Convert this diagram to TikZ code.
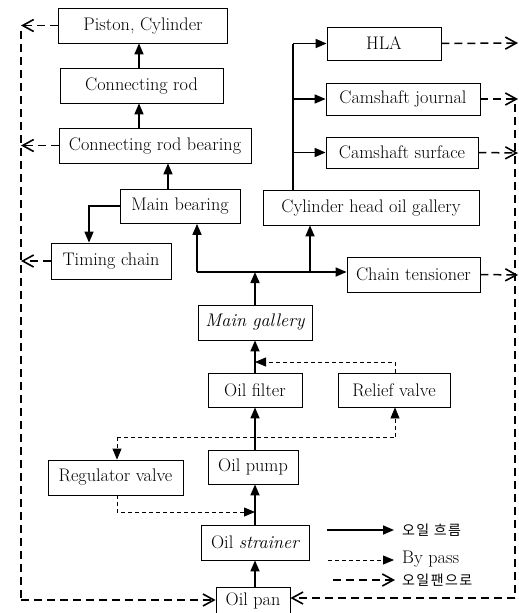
\documentclass[tikz,border=0pt]{standalone}
\usepackage{fontspec}
\newfontfamily\cjk[LetterSpace=10]{Noto Sans CJK KR}
\usetikzlibrary{arrows.meta}
\tikzset{
  box/.style={draw, line width=0.8pt, fill=white, inner sep=0pt, align=center,
    font=\fontsize{18.2}{21}\selectfont},
  flow/.style={line width=1.7pt, -{Triangle[length=11pt,width=9pt]}},
  flowline/.style={line width=1.7pt},
  bypass/.style={line width=0.8pt, dash pattern=on 4pt off 3pt, -{Triangle[length=11pt,width=9pt]}},
  bypassline/.style={line width=0.8pt, dash pattern=on 4pt off 3pt},
  ret/.style={line width=1.5pt, dash pattern=on 8pt off 5pt, -{Straight Barb[length=11pt,width=12pt,line width=1.6pt]}},
  retline/.style={line width=1.5pt, dash pattern=on 8pt off 5pt},
  legtext/.style={anchor=west, inner sep=0pt},
}
\begin{document}
\begin{tikzpicture}[x=1pt,y=-1pt]
\useasboundingbox (0,0) rectangle (519,613);
% boxes
\node[box, minimum width=169pt, minimum height=35pt] (piston) at (143,25.5) {Piston, Cylinder};
\node[box, minimum width=163pt, minimum height=35pt] (conrod) at (141.5,85.5) {Connecting rod};
\node[box, minimum width=192pt, minimum height=35pt] (crb) at (155,145.5) {Connecting rod bearing};
\node[box, minimum width=120pt, minimum height=34pt] (mb) at (180,206.5) {Main bearing};
\node[box, minimum width=120pt, minimum height=36pt] (tc) at (111,261) {Timing chain};
\node[box, minimum width=216pt, minimum height=35pt] (chog) at (371,207.5) {Cylinder head oil gallery};
\node[box, minimum width=114pt, minimum height=33pt] (hla) at (384,43.5) {HLA};
\node[box, minimum width=154pt, minimum height=32pt] (cj) at (403,99) {Camshaft journal};
\node[box, minimum width=152pt, minimum height=31pt] (cs) at (402,152.5) {Camshaft surface};
\node[box, minimum width=133pt, minimum height=35pt] (ct) at (413.5,274.5) {Chain tensioner};
\node[box, minimum width=114pt, minimum height=35pt] (mg) at (255,322.5) {\itshape Main gallery};
\node[box, minimum width=94pt, minimum height=34pt] (of) at (255,390) {Oil filter};
\node[box, minimum width=112pt, minimum height=34pt] (rv) at (394,390) {Relief valve};
\node[box, minimum width=90pt, minimum height=34pt] (op) at (253,467) {Oil pump};
\node[box, minimum width=135pt, minimum height=35pt] (rg) at (115.5,477.5) {Regulator valve};
\node[box, minimum width=108pt, minimum height=35pt] (os) at (255,542.5) {Oil \itshape strainer};
\node[box, minimum width=74pt, minimum height=27pt] (pan) at (253,600.5) {Oil pan};

% junction coordinates
\coordinate (jm) at (255,272);
\coordinate (jmb) at (197,272);
\coordinate (jch) at (310,272);
\coordinate (jtc) at (89,206);
\coordinate (jtop) at (293,43.5);
\coordinate (jcj) at (293,99);
\coordinate (jcs) at (293,152.5);
\coordinate (x168) at (168,0);
\coordinate (x139) at (139,0);
\coordinate (jrgt) at (117,437);
\coordinate (jrvb) at (395,437);
\coordinate (jrgb) at (117,512);
\coordinate (jpb) at (255,512);
\coordinate (jrvt) at (395,362);
\coordinate (jfb) at (255,362);
\coordinate (lft) at (21,31);
\coordinate (lbot) at (21,600);
\coordinate (rtop) at (515,104);
\coordinate (rbot) at (515,598);
\coordinate (lp) at (21,25.5);
\coordinate (lc) at (21,145.5);
\coordinate (lt) at (21,261);
\coordinate (rh) at (518,43);
\coordinate (rj) at (518,99);
\coordinate (rs) at (518,153);
\coordinate (rc) at (518,275);

% main flow
\draw[flow] (pan.north -| os) -- (os.south);
\draw[flow] (os.north) -- (op.south -| os);
\draw[flow] (op.north -| os) -- (of.south);
\draw[flow] (of.north) -- (mg.south);
\draw[flow] (mg.north) -- (jm);
\draw[flowline] (jmb) -- (jm);
\draw[flow] (jm) -- (ct.west |- jm);
\draw[flow] (jmb) -- (jmb |- mb.south);
\draw[flow] (jch) -- (jch |- chog.south);
\draw[flow] (mb.north -| x168) -- (crb.south -| x168);
\draw[flow] (crb.north -| x139) -- (conrod.south -| x139);
\draw[flow] (conrod.north -| x139) -- (piston.south -| x139);
\draw[flow] (mb.west |- jtc) -- (jtc) -- (jtc |- tc.north);
\draw[flowline] (jtop |- chog.north) -- (jtop);
\draw[flow] (jtop) -- (hla.west);
\draw[flow] (jcj) -- (cj.west);
\draw[flow] (jcs) -- (cs.west);

% bypass
\draw[bypassline] (jrgt) -- (jrvb);
\draw[bypass] (jrgt) -- (jrgt |- rg.north);
\draw[bypass] (jrvb) -- (jrvb |- rv.south);
\draw[bypass] (jrgt |- rg.south) -- (jrgb) -- (jpb);
\draw[bypass] (jrvt |- rv.north) -- (jrvt) -- (jfb);

% return
\draw[retline] (lft) -- (lbot);
\draw[ret] (lbot) -- (pan.west |- lbot);
\draw[ret] (piston.west) -- (lp);
\draw[ret] (crb.west) -- (lc);
\draw[ret] (tc.west) -- (lt);
\draw[retline] (rtop) -- (rbot);
\draw[ret] (rbot) -- (pan.east |- rbot);
\draw[ret] (hla.east) -- (rh);
\draw[ret] (cj.east) -- (rj);
\draw[ret] (cs.east) -- (rs);
\draw[ret] (ct.east) -- (rc);

% legend
\coordinate (l1a) at (327,530); \coordinate (l1b) at (394,530);
\coordinate (l2a) at (328,560); \coordinate (l2b) at (394,560);
\coordinate (l3a) at (333,580); \coordinate (l3b) at (395,580);
\draw[flow] (l1a) -- (l1b);
\draw[bypass] (l2a) -- (l2b);
\draw[ret] (l3a) -- (l3b);
\node[legtext, font=\cjk\fontsize{14}{16}\selectfont] (t1) at (402,530) {오일 흐름};
\node[legtext, font=\fontsize{18.2}{21}\selectfont] (t2) at (402,559) {By pass};
\node[legtext, font=\cjk\fontsize{14}{16}\selectfont] (t3) at (402,580) {오일팬으로};
\end{tikzpicture}
\end{document}
